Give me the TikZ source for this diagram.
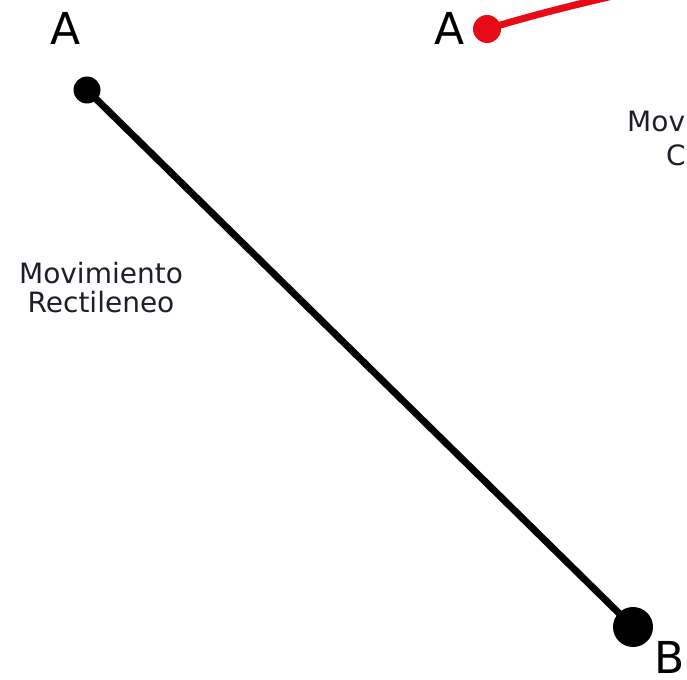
\documentclass[tikz,border=0pt]{standalone}
\usepackage{fontspec}
\setmainfont{DejaVu Sans}
\definecolor{redline}{RGB}{232,10,20}
\definecolor{txt}{RGB}{30,30,40}
\begin{document}
\begin{tikzpicture}[x=1pt,y=-1pt,
  bigletter/.style={inner sep=0pt,font=\fontsize{44}{44}\selectfont,text=black},
  caption/.style={inner sep=0pt,font=\fontsize{28}{29}\selectfont,text=txt},
  dotnode/.style={circle,fill=black,inner sep=0pt},
]
\useasboundingbox (0,0) rectangle (687,679);
\clip (0,0) rectangle (687,679);
% left: straight motion
\node[bigletter,anchor=base] (lA) at (66,45) {A};
\node[dotnode,minimum size=27pt] (pA) at (87,90) {};
\node[dotnode,minimum size=40pt] (pB) at (633,627) {};
\node[bigletter,anchor=base west] (lB) at (654,673) {B};
\draw[line width=7pt] (pA.center) -- (pB.center);
\node[caption,anchor=base] (m1) at (101,283) {Movimiento};
\node[caption,anchor=base] (m2) at (101,312) {Rectileneo};
% right: curved motion
\node[bigletter,anchor=base] (rA) at (450,45) {A};
\node[circle,fill=redline,inner sep=0pt,minimum size=28pt] (rP) at (487,29) {};
\coordinate (rEnd) at (640,-10);
\draw[redline,line width=7pt] (rP.center) .. controls (530,16) and (580,3) .. (rEnd);
\node[caption,anchor=base west] (c1) at (627,132) {Movimiento};
\node[caption,anchor=base west] (c2) at (666,165) {Curvilineo};
\end{tikzpicture}
\end{document}
